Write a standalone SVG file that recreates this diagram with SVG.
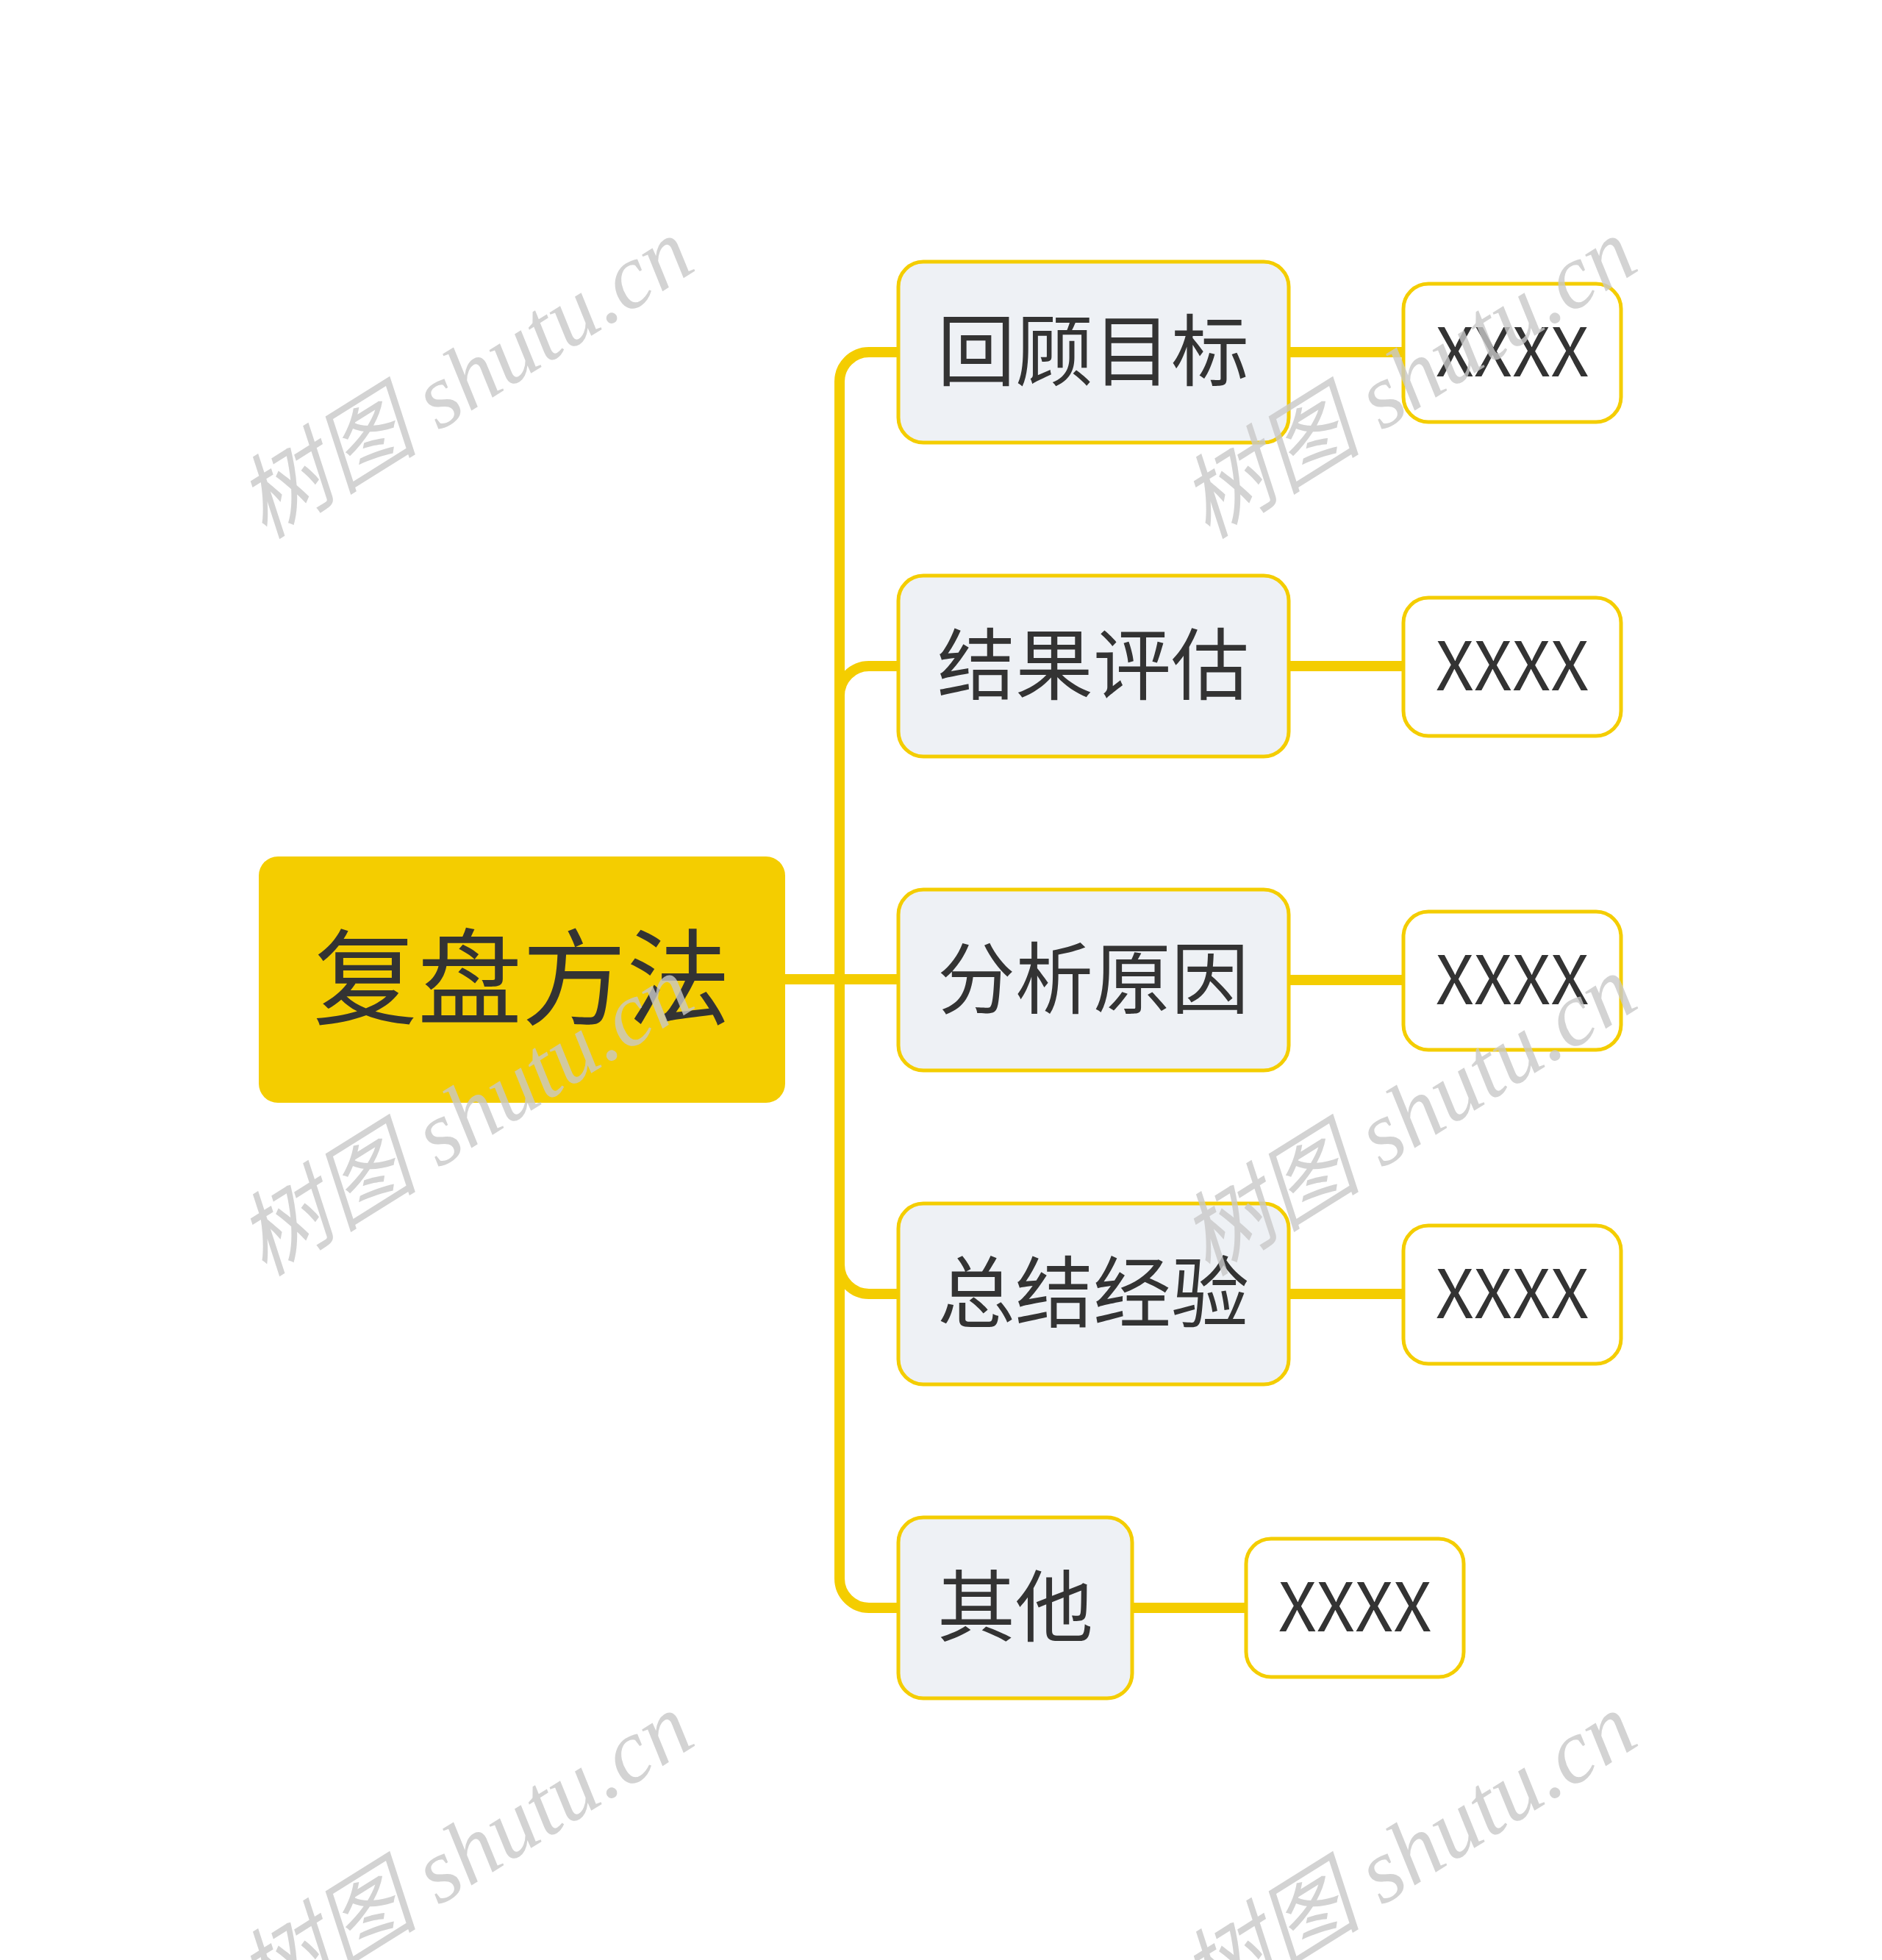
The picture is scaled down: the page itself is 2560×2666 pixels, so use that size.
<svg xmlns="http://www.w3.org/2000/svg" width="2560" height="2666" viewBox="0 0 2560 2666">
<style>
.conn{fill:none;stroke:#F4CD00;stroke-width:14;stroke-linecap:butt}
.root{fill:#F4CD00}
.sub{fill:#EEF1F5;stroke:#F4CD00;stroke-width:5}
.leaf{fill:#FFFFFF;stroke:#F4CD00;stroke-width:5}
.t{font-family:"Noto Sans CJK SC","Noto Sans",sans-serif;fill:#333333;text-anchor:middle}
.wm{font-family:"Liberation Serif","Noto Sans CJK SC",serif;font-style:italic;font-size:124px;fill:#C8C8C8;fill-opacity:0.8;text-anchor:middle}
</style>
<rect width="2560" height="2666" fill="#FFFFFF"/>
<g id="connectors">
<path class="conn" d="M1068 1332 H1220"/>
<path class="conn" d="M1142 1332 V519 A40 40 0 0 1 1182 479 H1220"/>
<path class="conn" d="M1142 1332 V946 A40 40 0 0 1 1182 906 H1220"/>
<path class="conn" d="M1142 1332 V1720 A40 40 0 0 0 1182 1760 H1220"/>
<path class="conn" d="M1142 1332 V2147 A40 40 0 0 0 1182 2187 H1220"/>
<path class="conn" d="M1753 479 H1907"/>
<path class="conn" d="M1753 906 H1907"/>
<path class="conn" d="M1753 1333 H1907"/>
<path class="conn" d="M1753 1760 H1907"/>
<path class="conn" d="M1540 2187 H1693"/>
</g>
<g id="root">
<rect class="root" x="352" y="1165" width="716" height="335" rx="26"/>
<text class="t" x="710" y="1383" font-size="142">复盘方法</text>
</g>
<g id="n1">
<rect class="sub" x="1222" y="356" width="531" height="246" rx="34"/>
<text class="t" x="1487" y="516" font-size="106">回顾目标</text>
</g>
<g id="n2">
<rect class="sub" x="1222" y="783" width="531" height="246" rx="34"/>
<text class="t" x="1487" y="943" font-size="106">结果评估</text>
</g>
<g id="n3">
<rect class="sub" x="1222" y="1210" width="531" height="246" rx="34"/>
<text class="t" x="1487" y="1370" font-size="106">分析原因</text>
</g>
<g id="n4">
<rect class="sub" x="1222" y="1637" width="531" height="246" rx="34"/>
<text class="t" x="1487" y="1797" font-size="106">总结经验</text>
</g>
<g id="n5">
<rect class="sub" x="1222" y="2064" width="318" height="246" rx="34"/>
<text class="t" x="1381" y="2224" font-size="106">其他</text>
</g>
<g id="l1">
<rect class="leaf" x="1909" y="386" width="296" height="188" rx="34"/>
<text class="t" x="2057" y="512" font-size="91">XXXX</text>
</g>
<g id="l2">
<rect class="leaf" x="1909" y="813" width="296" height="188" rx="34"/>
<text class="t" x="2057" y="939" font-size="91">XXXX</text>
</g>
<g id="l3">
<rect class="leaf" x="1909" y="1240" width="296" height="188" rx="34"/>
<text class="t" x="2057" y="1366" font-size="91">XXXX</text>
</g>
<g id="l4">
<rect class="leaf" x="1909" y="1667" width="296" height="188" rx="34"/>
<text class="t" x="2057" y="1793" font-size="91">XXXX</text>
</g>
<g id="l5">
<rect class="leaf" x="1695" y="2093" width="296" height="188" rx="34"/>
<text class="t" x="1843" y="2219" font-size="91">XXXX</text>
</g>
<g id="watermarks">
<text class="wm" x="655" y="550" transform="rotate(-32 655 550)">树图 shutu.cn</text>
<text class="wm" x="1938" y="550" transform="rotate(-32 1938 550)">树图 shutu.cn</text>
<text class="wm" x="655" y="1553" transform="rotate(-32 655 1553)">树图 shutu.cn</text>
<text class="wm" x="1938" y="1553" transform="rotate(-32 1938 1553)">树图 shutu.cn</text>
<text class="wm" x="655" y="2556" transform="rotate(-32 655 2556)">树图 shutu.cn</text>
<text class="wm" x="1938" y="2556" transform="rotate(-32 1938 2556)">树图 shutu.cn</text>
</g>
</svg>
